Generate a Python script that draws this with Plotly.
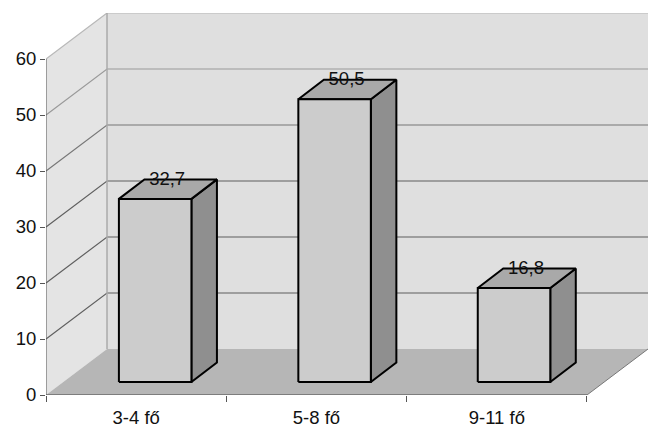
import plotly.graph_objects as go

categories = ["3-4 fő", "5-8 fő", "9-11 fő"]
values = [32.7, 50.5, 16.8]
value_labels = ["32,7", "50,5", "16,8"]
y_ticks = [0, 10, 20, 30, 40, 50, 60]

# projection constants (category units / value units)
PX_X = 1 / 180.3
PX_Y = 1 / 5.6
WALL_DX = 61 * PX_X
WALL_DY = 46 * PX_Y
BAR_W = 72.5 * PX_X
BAR_STEP = 179.4 * PX_X
BAR_SHIFT = 19 * PX_X
BAR_BASE = 13 * PX_Y
BAR_DX = 25.5 * PX_X
BAR_DY = 19.5 * PX_Y
X0 = -0.5
X1 = 2.5
Y_MAX = 60

fig = go.Figure()


def poly(xs, ys, fill, line=None, width=0):
    fig.add_trace(go.Scatter(
        x=xs + xs[:1], y=ys + ys[:1], mode="lines", fill="toself", fillcolor=fill,
        line=dict(color=line or fill, width=width), hoverinfo="skip", showlegend=False,
    ))


def seg(xs, ys, color, width=1):
    fig.add_trace(go.Scatter(
        x=xs, y=ys, mode="lines", line=dict(color=color, width=width),
        hoverinfo="skip", showlegend=False, cliponaxis=False,
    ))


# walls and floor
poly([X0 + WALL_DX, X1 + WALL_DX, X1 + WALL_DX, X0 + WALL_DX],
     [WALL_DY, WALL_DY, Y_MAX + WALL_DY, Y_MAX + WALL_DY], "#dfdfdf")
poly([X0, X0 + WALL_DX, X0 + WALL_DX, X0],
     [0, WALL_DY, Y_MAX + WALL_DY, Y_MAX], "#e4e4e4")
poly([X0, X1, X1 + WALL_DX, X0 + WALL_DX], [0, 0, WALL_DY, WALL_DY], "#b6b6b6")

# gridlines
for v in y_ticks[1:]:
    col = "#5f5f5f" if v <= 30 else ("#777777" if v == 40 else "#999999")
    if v == 60:
        col = "#b8b8b8"
    seg([X0, X0 + WALL_DX, X1 + WALL_DX], [v, v + WALL_DY, v + WALL_DY], col, 1.2)
seg([X0 + WALL_DX, X0 + WALL_DX], [WALL_DY, Y_MAX + WALL_DY], "#ababab", 1.5)
seg([X1, X1 + WALL_DX], [0, WALL_DY], "#777777", 1)

# axes
seg([X0, X0], [0, Y_MAX], "#555555", 1)
seg([X0, X1], [0, 0], "#444444", 1)

# bars
for i, v in enumerate(values):
    c = i * BAR_STEP + BAR_SHIFT
    l = c - BAR_W / 2
    r = l + BAR_W
    b = BAR_BASE
    t = BAR_BASE + v
    poly([r, r + BAR_DX, r + BAR_DX, r], [b, b + BAR_DY, t + BAR_DY, t], "#8f8f8f", "#000000", 2)
    poly([l, r, r + BAR_DX, l + BAR_DX], [t, t, t + BAR_DY, t + BAR_DY], "#a9a9a9", "#000000", 2)
    poly([l, r, r, l], [b, b, t, t], "#cccccc", "#000000", 2)

# value labels
fig.add_trace(go.Scatter(
    x=[i * BAR_STEP + BAR_SHIFT + 12 * PX_X for i in range(len(values))],
    y=[v + 5.6 for v in values],
    mode="text", text=value_labels, textposition="middle center",
    textfont=dict(family="Liberation Sans", size=18.5, color="#111111"),
    hoverinfo="skip", showlegend=False, cliponaxis=False,
))

fig.update_layout(
    width=652, height=432, autosize=False,
    margin=dict(l=46, r=4, t=13, b=37),
    paper_bgcolor="white", plot_bgcolor="white",
    font=dict(family="Liberation Sans", size=18.5, color="#111111"),
    showlegend=False,
    xaxis=dict(
        range=[X0, X1 + WALL_DX], tickmode="array",
        tickvals=[0, 1, 2], ticktext=categories, ticks="",
        showgrid=False, zeroline=False, showline=False, ticklabelstandoff=9,
        minor=dict(tickmode="array", tickvals=[-0.5, 0.5, 1.5, 2.5], ticks="outside",
                   ticklen=6, tickcolor="#555555", tickwidth=1, showgrid=False),
    ),
    yaxis=dict(
        range=[0, Y_MAX + WALL_DY], tickmode="array", tickvals=y_ticks,
        ticks="outside", ticklen=5, tickcolor="#555555", tickwidth=1,
        showgrid=False, zeroline=False, showline=False,
    ),
)

fig.write_html("out.html", config={"displayModeBar": False},
               post_script="document.body.style.margin='0';")
